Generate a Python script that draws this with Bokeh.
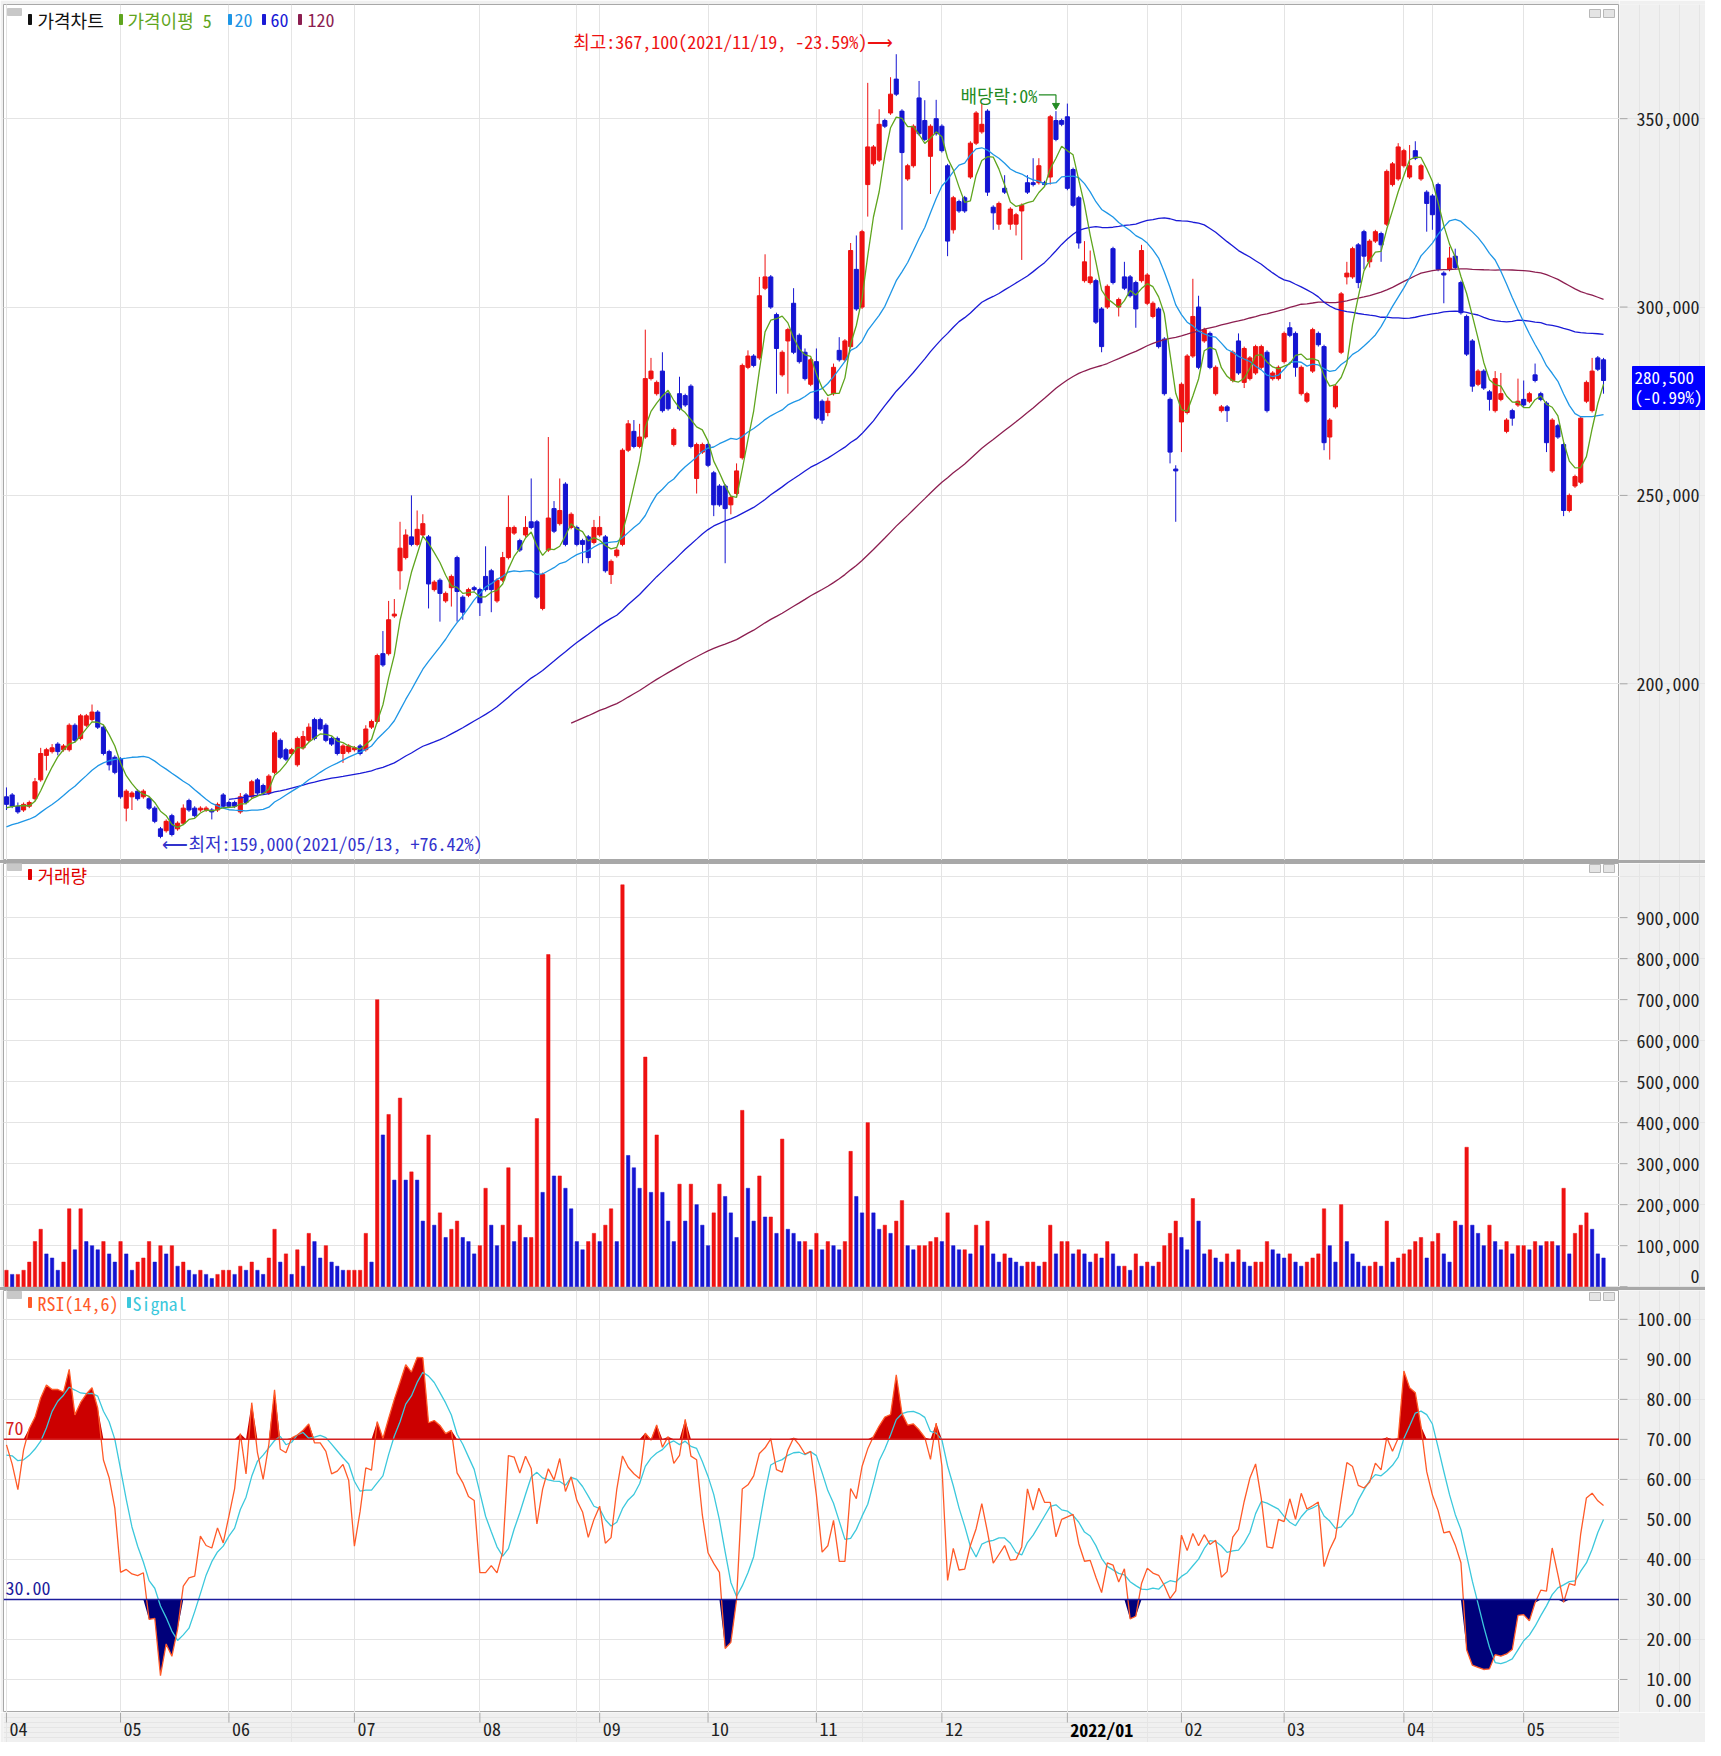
import numpy as np
from bokeh.plotting import figure
from bokeh.models import (ColumnDataSource, FixedTicker, Label, Span, Range1d, Div, BoxAnnotation, Grid)
from bokeh.layouts import column, row
from bokeh.embed import file_html
from bokeh.resources import INLINE
from bokeh.core.properties import value

# ---------------- data: prices in thousand KRW, volume in thousand shares ----------------
month_idx = [0, 20, 39, 61, 83, 104, 123, 142, 164, 186, 206, 224, 245, 266]
month_lbl = ["04", "05", "06", "07", "08", "09", "10", "11", "12", "2022/01", "02", "03", "04", "05"]

# 20 sessions before the visible window (only used to warm up the averages / RSI)
prior_close_k = [157.0, 155.5, 158.0, 156.5, 159.0, 160.5, 158.5, 161.0, 162.5, 160.0,
                 158.5, 161.5, 163.0, 162.0, 164.5, 163.5, 166.0, 165.0, 167.5, 169.0]

open_k = [
    170.0, 170.5, 167.5, 166.5, 167.5, 169.5, 174.5, 181.0, 182.0, 184.0, 182.5, 182.5, 189.0, 185.5, 189.0, 190.5, 192.5, 188.5, 182.0, 180.5,
    180.0, 167.0, 170.0, 171.5, 170.0, 169.5, 167.0, 161.5, 161.0, 165.0, 161.5, 163.0, 169.0, 167.0, 166.5, 166.5, 166.5, 166.5, 170.5,
    168.5, 168.5, 166.0, 170.5, 170.0, 174.5, 173.0, 171.0, 176.5, 185.0, 182.5, 181.5, 178.5, 183.0, 185.0, 190.5, 190.5, 189.0, 185.5, 185.5, 181.5, 182.0,
    182.5, 183.5, 182.5, 188.5, 190.0, 208.0, 208.0, 218.0, 230.0, 233.5, 239.0, 237.0, 239.5, 239.0, 225.0, 227.5, 222.0, 225.5, 233.5, 223.0, 223.5, 225.5,
    225.0, 228.5, 230.0, 222.0, 227.5, 233.5, 240.0, 238.0, 239.5, 243.0, 243.0, 220.0, 235.5, 246.5, 242.5, 253.0, 241.5, 241.5, 238.0, 239.0, 237.5,
    239.5, 239.0, 229.0, 234.0, 237.0, 262.0, 267.0, 263.0, 265.5, 281.0, 277.0, 283.0, 277.0, 263.5, 277.0, 276.5, 279.0, 254.5, 261.5,
    263.5, 256.0, 252.5, 252.5, 247.5, 250.5, 260.0, 284.0, 287.0, 286.5, 305.0, 308.0, 298.0, 282.0, 291.0, 301.0, 292.5, 288.0, 279.5,
    285.5, 275.0, 272.0, 277.0, 288.5, 286.0, 289.5, 310.0, 300.0, 332.5, 338.0, 339.0, 349.5, 351.5, 360.5, 352.0, 334.0, 337.5, 355.5, 349.5, 340.0, 350.0,
    348.0, 337.5, 320.5, 328.0, 329.0, 334.5, 343.5, 346.5, 352.0, 326.5, 322.0, 331.5, 322.0, 322.0, 325.5, 333.0, 333.0, 333.0, 333.0, 334.5, 349.5, 349.5,
    350.5, 336.5, 329.0, 307.0, 306.5, 307.0, 299.5, 300.0, 315.5, 300.0, 308.0, 308.0, 306.5, 307.0, 301.0, 297.5, 299.5, 291.5, 275.5, 257.0,
    269.5, 272.0, 287.0, 300.0, 291.0, 293.0, 277.0, 272.5, 273.5, 280.5, 291.0, 280.0, 281.0, 282.5, 284.0, 288.0, 281.0, 281.0,
    285.5, 294.5, 293.0, 277.0, 275.0, 283.0, 293.0, 289.5, 265.5, 273.5, 288.0, 308.0, 308.0, 316.5, 320.0, 312.0, 317.5, 319.5, 322.0, 332.5, 334.0,
    337.5, 334.5, 341.5, 334.0, 330.5, 329.5, 332.5, 309.0, 310.0, 313.5, 306.5, 297.5, 291.0, 279.5, 283.0, 277.5, 272.5, 275.5, 267.0, 272.5, 274.0,
    275.5, 275.0, 282.0, 277.0, 274.5, 256.5, 268.5, 263.5, 246.0, 252.5, 253.5, 275.0, 272.5, 286.5, 286.0,
]
high_k = [
    172.5, 171.0, 168.5, 168.5, 169.0, 175.0, 183.0, 183.0, 184.0, 184.5, 184.0, 189.5, 189.5, 192.0, 192.0, 194.5, 193.0, 189.0, 182.5, 181.0,
    180.5, 172.0, 171.5, 172.0, 172.0, 170.0, 167.5, 162.0, 164.0, 165.5, 163.5, 168.0, 169.5, 167.5, 167.5, 167.5, 167.0, 168.5, 171.0,
    169.0, 169.0, 171.0, 171.0, 174.5, 175.0, 173.5, 176.0, 187.5, 185.5, 183.0, 183.0, 186.0, 187.5, 189.5, 191.0, 191.0, 189.5, 186.0, 186.0, 184.0, 184.0,
    183.5, 184.0, 189.0, 190.5, 208.0, 214.0, 222.0, 222.5, 243.0, 241.0, 250.0, 246.0, 245.0, 239.5, 227.5, 228.0, 224.5, 229.0, 234.0, 223.5, 225.5, 226.0,
    225.5, 236.5, 230.5, 228.0, 235.0, 250.0, 242.0, 238.5, 244.5, 254.5, 243.5, 229.5, 265.5, 248.5, 254.5, 253.5, 245.5, 242.0, 238.5, 239.5, 243.5,
    244.5, 239.5, 233.0, 236.0, 262.5, 270.0, 270.0, 269.0, 294.0, 286.5, 280.5, 288.0, 277.5, 268.0, 281.5, 277.0, 279.5, 264.0, 264.0,
    264.0, 256.5, 253.0, 253.0, 250.0, 258.5, 285.0, 288.5, 287.5, 308.0, 314.0, 308.5, 298.5, 288.5, 294.5, 305.0, 293.0, 289.0, 286.5,
    289.0, 275.5, 276.0, 285.0, 292.0, 291.5, 317.0, 319.0, 320.5, 359.5, 343.0, 352.5, 350.0, 361.0, 367.1, 352.5, 338.0, 348.5, 360.0, 354.9, 348.5, 355.0,
    348.5, 338.0, 329.5, 328.5, 329.5, 344.0, 352.0, 354.0, 352.5, 327.0, 328.0, 335.0, 326.5, 325.0, 327.5, 335.0, 339.5, 339.5, 333.5, 351.0, 352.0, 350.0,
    354.0, 337.0, 329.5, 317.5, 315.0, 307.5, 300.0, 306.0, 316.0, 302.5, 312.0, 308.5, 307.0, 316.5, 309.0, 301.5, 300.0, 292.0, 276.0, 258.0,
    280.0, 287.5, 307.5, 303.0, 294.5, 293.5, 284.5, 274.0, 274.0, 288.5, 293.0, 289.5, 287.0, 290.0, 290.0, 288.5, 283.0, 284.5,
    293.5, 296.0, 293.5, 284.5, 277.5, 294.5, 293.5, 290.0, 270.5, 279.5, 304.0, 312.0, 316.0, 317.0, 320.5, 318.0, 320.5, 320.0, 336.5, 338.5, 343.5,
    342.0, 343.0, 344.0, 338.0, 331.0, 330.0, 333.0, 309.5, 316.0, 315.5, 307.0, 298.0, 291.5, 283.5, 283.5, 278.0, 283.0, 282.5, 270.5, 273.0, 281.0,
    280.5, 277.5, 285.0, 277.5, 275.0, 270.5, 269.0, 264.0, 250.5, 255.5, 271.0, 280.5, 286.5, 287.0, 286.5,
]
low_k = [
    166.5, 167.0, 165.5, 166.0, 167.0, 169.0, 174.0, 177.0, 181.5, 181.0, 182.0, 182.0, 184.5, 185.0, 188.5, 190.0, 188.0, 181.0, 177.0, 176.0,
    169.5, 163.5, 166.5, 169.0, 169.5, 166.5, 163.0, 159.0, 160.5, 159.5, 161.0, 162.5, 166.0, 164.5, 166.0, 166.0, 164.0, 166.0, 167.0,
    167.0, 167.0, 165.5, 168.0, 169.5, 170.5, 170.5, 170.5, 176.0, 180.0, 179.5, 181.0, 178.0, 182.5, 184.5, 185.0, 187.5, 184.5, 183.5, 181.0, 179.0, 181.5,
    182.0, 181.0, 182.0, 188.0, 189.5, 204.5, 207.5, 217.5, 225.0, 233.0, 236.5, 236.5, 239.0, 220.0, 224.5, 216.5, 221.5, 220.5, 216.5, 217.0, 223.0, 224.5,
    218.0, 224.5, 219.0, 221.5, 227.0, 233.0, 239.5, 235.0, 239.0, 241.0, 222.5, 219.5, 235.0, 240.0, 242.0, 236.5, 241.0, 236.5, 232.0, 232.0, 237.0,
    239.0, 229.5, 226.5, 233.5, 236.5, 261.5, 262.5, 262.5, 265.0, 280.5, 276.5, 272.0, 272.5, 263.0, 272.5, 273.5, 262.5, 250.5, 261.0,
    257.5, 244.5, 247.0, 232.0, 245.0, 250.0, 259.5, 283.5, 284.0, 286.0, 304.5, 299.5, 277.0, 281.5, 277.0, 287.5, 285.0, 280.5, 279.0,
    270.0, 269.0, 271.0, 276.5, 285.5, 285.5, 289.0, 299.0, 299.5, 324.0, 337.5, 338.5, 347.5, 351.0, 356.0, 320.5, 333.5, 337.0, 345.5, 344.0, 330.0, 345.5,
    341.0, 313.5, 319.5, 325.0, 325.0, 334.0, 343.0, 346.0, 329.5, 320.5, 320.5, 330.0, 320.5, 319.0, 312.5, 330.0, 332.0, 332.5, 332.0, 332.5, 344.0, 348.0,
    331.0, 326.5, 315.5, 306.5, 306.0, 295.5, 288.0, 299.5, 306.0, 297.5, 304.5, 302.5, 294.5, 306.5, 300.5, 297.0, 289.0, 276.5, 258.5, 243.0,
    261.5, 271.5, 286.5, 283.5, 290.5, 283.5, 276.5, 272.0, 269.5, 280.0, 282.0, 278.5, 280.5, 282.0, 283.5, 272.0, 280.5, 280.5,
    285.0, 292.0, 281.5, 276.5, 274.5, 282.5, 289.5, 262.0, 259.5, 273.0, 287.5, 306.0, 307.5, 305.0, 310.0, 310.5, 317.0, 312.0, 321.5, 332.0, 333.5,
    337.0, 334.0, 339.0, 333.5, 320.0, 320.5, 309.5, 301.0, 309.5, 310.0, 298.0, 287.0, 277.5, 279.0, 278.0, 272.5, 272.0, 275.0, 266.5, 268.5, 273.5,
    273.5, 274.5, 280.0, 275.0, 261.5, 256.0, 265.0, 244.5, 245.5, 252.0, 253.0, 274.5, 272.0, 283.0, 277.0,
]
close_k = [
    168.0, 167.5, 166.0, 168.0, 168.5, 174.0, 181.5, 182.5, 183.0, 182.0, 183.5, 189.0, 185.0, 191.5, 191.5, 192.5, 188.5, 181.5, 178.5, 176.5,
    170.0, 171.5, 171.0, 169.5, 171.5, 167.0, 163.5, 159.5, 163.5, 160.0, 163.0, 167.0, 166.5, 165.0, 167.0, 167.0, 166.0, 168.0, 167.5,
    167.5, 167.5, 170.0, 168.5, 174.0, 171.0, 171.0, 175.5, 187.0, 180.5, 180.0, 182.5, 185.5, 186.0, 188.5, 185.5, 188.0, 185.0, 184.0, 181.5, 183.5, 183.5,
    183.0, 181.5, 188.0, 190.0, 207.5, 205.0, 217.0, 218.5, 236.0, 239.5, 237.0, 241.0, 242.5, 226.5, 227.0, 224.0, 224.0, 228.5, 224.5, 219.0, 225.0, 225.0,
    221.5, 225.0, 225.0, 227.5, 233.5, 241.5, 241.5, 235.5, 241.5, 241.5, 223.0, 229.0, 244.0, 240.5, 246.0, 237.0, 245.0, 237.0, 237.0, 233.5, 241.5,
    241.5, 230.0, 232.5, 235.5, 262.0, 269.0, 263.0, 265.5, 281.0, 283.0, 280.0, 272.5, 273.0, 267.5, 273.0, 274.0, 263.0, 263.5, 263.5,
    258.0, 247.5, 247.5, 246.5, 249.5, 256.5, 284.5, 287.0, 284.5, 303.0, 308.0, 300.0, 289.0, 288.0, 294.0, 288.0, 285.5, 281.0, 286.0,
    270.5, 270.0, 275.0, 284.0, 286.0, 291.0, 315.0, 299.5, 320.0, 342.5, 342.5, 348.5, 348.0, 356.5, 356.5, 341.0, 337.5, 348.0, 346.0, 344.5, 348.0, 346.0,
    341.5, 317.5, 329.0, 325.5, 325.5, 343.5, 351.5, 348.5, 330.5, 325.0, 327.5, 330.5, 326.0, 324.5, 327.0, 330.5, 332.5, 337.5, 332.5, 350.5, 344.5, 348.5,
    331.5, 327.0, 317.0, 312.0, 308.0, 296.0, 289.5, 305.5, 306.5, 302.0, 305.0, 303.0, 299.5, 315.0, 308.5, 301.0, 289.5, 277.0, 261.5, 256.5,
    279.5, 287.0, 297.5, 284.0, 294.0, 284.0, 284.0, 273.5, 272.5, 288.0, 282.5, 289.0, 286.5, 289.5, 289.5, 272.5, 282.5, 284.0,
    293.0, 292.5, 284.0, 284.0, 277.0, 294.0, 290.0, 264.0, 270.0, 279.0, 303.5, 309.0, 315.5, 306.5, 313.5, 317.5, 320.0, 316.5, 336.0, 338.0, 342.5,
    341.5, 337.5, 339.5, 337.5, 327.5, 324.5, 310.0, 308.5, 313.0, 310.5, 298.5, 287.5, 279.0, 283.0, 278.5, 275.5, 281.0, 277.0, 270.0, 270.5, 275.0,
    274.0, 277.0, 280.5, 275.5, 264.0, 270.0, 265.5, 246.0, 250.0, 255.0, 270.5, 280.0, 283.0, 283.5, 280.5,
]
volume_k = [
    40, 30, 30, 40, 60, 110, 140, 80, 70, 40, 60, 190, 90, 190, 110, 100, 90, 110, 80, 60,
    110, 80, 40, 60, 70, 110, 60, 100, 80, 100, 50, 60, 40, 30, 40, 30, 20, 30, 40,
    40, 30, 50, 40, 60, 40, 30, 70, 140, 60, 80, 30, 90, 50, 130, 110, 70, 100, 60, 50, 40, 40,
    40, 40, 130, 60, 700, 370, 420, 260, 460, 260, 280, 260, 160, 370, 150, 180, 120, 140, 160, 120, 110, 80,
    100, 240, 150, 100, 150, 290, 110, 150, 120, 120, 410, 230, 810, 270, 270, 240, 190, 110, 90, 110, 130,
    110, 150, 190, 110, 980, 320, 290, 240, 560, 230, 370, 230, 160, 110, 250, 160, 250, 200, 150,
    100, 180, 250, 220, 180, 120, 430, 240, 160, 270, 170, 170, 130, 360, 140, 130, 110, 110, 90,
    130, 90, 110, 100, 90, 110, 330, 220, 180, 400, 180, 140, 150, 130, 160, 210, 100, 90, 100, 100, 110, 120,
    110, 180, 100, 90, 90, 80, 150, 100, 160, 80, 60, 80, 70, 60, 50, 60, 60, 50, 60, 150, 80, 110,
    110, 80, 90, 80, 60, 80, 70, 110, 80, 50, 50, 40, 80, 50, 60, 50, 60, 100, 130, 160,
    120, 90, 215, 160, 80, 90, 70, 60, 80, 60, 90, 60, 50, 60, 60, 110, 90, 80,
    70, 80, 60, 50, 60, 70, 80, 190, 100, 60, 200, 110, 80, 60, 50, 50, 60, 50, 160, 60, 70,
    80, 90, 110, 120, 70, 110, 130, 80, 60, 160, 150, 340, 150, 130, 100, 150, 110, 90, 110, 80, 100,
    100, 90, 110, 100, 110, 110, 100, 240, 80, 130, 150, 180, 140, 80, 70,
]

price_ticks = [200000, 250000, 300000, 350000]
volume_ticks = [100000, 200000, 300000, 400000, 500000, 600000, 700000, 800000, 900000]
rsi_ticks = [10, 20, 30, 40, 50, 60, 70, 80, 90, 100]
ex_div_idx = 184
high_date = "2021/11/19"
low_date = "2021/05/13"
last_change_txt = "(-0.99%)"

# ---------------- derived series ----------------
K = 1000.0
o = np.array(open_k) * K
h = np.array(high_k) * K
l = np.array(low_k) * K
c = np.array(close_k) * K
vol = np.array(volume_k) * K
n = len(c)
x = np.arange(n)

npre = len(prior_close_k)
full = np.concatenate([np.array(prior_close_k) * K, c])


def sma(arr, w):
    out = np.full(len(arr), np.nan)
    cs = np.cumsum(np.insert(arr, 0, 0.0))
    out[w - 1:] = (cs[w:] - cs[:-w]) / w
    return out


ma = {w: sma(full, w)[npre:] for w in (5, 20, 60, 120)}

d = np.diff(full, prepend=full[0])
up = np.where(d > 0, d, 0.0)
dn = np.where(d < 0, -d, 0.0)
rsi_full = np.full(len(full), np.nan)
for j in range(14, len(full)):
    u = up[j - 13:j + 1].sum()
    dd = dn[j - 13:j + 1].sum()
    rsi_full[j] = 100.0 * u / (u + dd) if (u + dd) > 0 else 50.0
sig_full = np.full(len(full), np.nan)
for j in range(19, len(full)):
    sig_full[j] = rsi_full[j - 5:j + 1].mean()
rsi = rsi_full[npre:]
sig = sig_full[npre:]

# ---------------- styling ----------------
FW = 1616          # width of the chart frames
AW = 86            # width of the right-hand scale strip
FONT = "Noto Sans Mono CJK KR"
FS = "18px"
RED = "#ee1111"
BLUE = "#1414d2"
C5, C20, C60, C120 = "#5fa51e", "#1e96e6", "#1a1ad6", "#8c1e50"
GREEN = "#238b23"
GRID = "#e4e4e4"
PANEL_BG = "#f0f0f0"
xr = Range1d(-0.52, 282.8)


def make_fig(fh, yr, top, bottom, yticks):
    f = figure(frame_width=FW, frame_height=fh, x_range=xr, y_range=yr, output_backend="svg",
               toolbar_location=None, x_axis_location=None, y_axis_location=None,
               min_border_left=3, min_border_right=0, min_border_top=top, min_border_bottom=bottom)
    f.border_fill_color = PANEL_BG
    f.background_fill_color = "#ffffff"
    f.outline_line_color = "#a8a8a8"
    f.add_layout(Grid(dimension=0, ticker=FixedTicker(ticks=month_idx), grid_line_color=GRID))
    f.add_layout(Grid(dimension=1, ticker=FixedTicker(ticks=yticks), grid_line_color=GRID))
    return f


def scale_fig(fh, yr, top, bottom, yticks):
    a = figure(frame_width=AW, frame_height=fh, x_range=Range1d(0, AW), y_range=yr, output_backend="svg",
               toolbar_location=None, x_axis_location=None, y_axis_location=None,
               min_border_left=0, min_border_right=0, min_border_top=top, min_border_bottom=bottom)
    a.border_fill_color = PANEL_BG
    a.background_fill_color = PANEL_BG
    a.outline_line_color = None
    a.segment(x0=[0] * len(yticks), y0=yticks, x1=[8] * len(yticks), y1=yticks,
              line_color="#a8a8a8", line_width=1)
    return a


def scale_text(a, xx, ys, texts, align="left", color="#222222", size=FS):
    a.text(x=[xx] * len(ys), y=ys, text=texts, text_font=value(FONT), text_font_size=size,
           text_color=color, text_align=align, text_baseline="middle")


def add_text(f, xx, yy, s, color, xu="screen", yu="screen", align="left", baseline="middle",
             xo=0, yo=0):
    f.add_layout(Label(x=xx, y=yy, x_units=xu, y_units=yu, text=s, text_color=color,
                       text_font=FONT, text_font_size=FS, text_align=align,
                       text_baseline=baseline, x_offset=xo, y_offset=yo))


def add_box(f, fh, x0, x1, t0, t1, fill, line=None):
    f.add_layout(BoxAnnotation(left=x0, right=x1, top=fh - t0, bottom=fh - t1,
                               left_units="screen", right_units="screen",
                               top_units="screen", bottom_units="screen",
                               fill_color=fill, fill_alpha=1.0,
                               line_color=line if line else fill, line_alpha=1.0, line_width=1))


def legend(f, fh, yc, items):
    add_box(f, fh, 4, 18, yc - 11, yc - 4, "#c8c8c8")
    add_box(f, fh, FW - 30, FW - 19, yc - 10, yc - 2, "#e4e4e4", "#b8b8b8")
    add_box(f, fh, FW - 16, FW - 5, yc - 10, yc - 2, "#e4e4e4", "#b8b8b8")
    for bx, tx, s, col in items:
        add_box(f, fh, bx, bx + 3, yc - 5, yc + 5, col)
        add_text(f, tx, fh - yc, s, col)


# ---------------- price panel ----------------
PH = 856
p_yr = Range1d(153100, 380300)
p = make_fig(PH, p_yr, 4, 0, price_ticks)

colors = np.where(c >= o, RED, BLUE)
src = ColumnDataSource(dict(x=x, h=h, l=l, top=np.maximum(o, c), bot=np.minimum(o, c), color=colors))
p.segment(x0="x", y0="l", x1="x", y1="h", line_color="color", line_width=1, source=src)
p.vbar(x="x", width=0.72, top="top", bottom="bot", fill_color="color", line_color="color",
       line_width=1, source=src)
p.line(x, ma[120], line_color=C120, line_width=1.3)
p.line(x, ma[60], line_color=C60, line_width=1.3)
p.line(x, ma[20], line_color=C20, line_width=1.3)
p.line(x, ma[5], line_color=C5, line_width=1.3)

legend(p, PH, 15, [(25, 34, "가격차트", "#111111"), (116, 124, "가격이평 5", C5),
                   (225, 231, "20", C20), (259, 267, "60", C60), (295, 304, "120", C120)])

hi_i = int(np.argmax(h))
lo_i = int(np.argmin(l))
hi_v, lo_v, last = h[hi_i], l[lo_i], c[-1]
add_text(p, hi_i, hi_v, f"최고:{hi_v:,.0f}({high_date}, {(last / hi_v - 1) * 100:+.2f}%)⟶", RED,
         xu="data", yu="data", align="right", xo=-3, yo=13)
add_text(p, lo_i, lo_v, f"⟵최저:{lo_v:,.0f}({low_date}, {(last / lo_v - 1) * 100:+.2f}%)", "#3333cc",
         xu="data", yu="data", align="left", xo=2, yo=-5)

yt = h[ex_div_idx] + 4300
ya = h[ex_div_idx] + 1500
p.line([ex_div_idx - 3.0, ex_div_idx, ex_div_idx], [yt, yt, ya], line_color=GREEN, line_width=1.2)
p.scatter([ex_div_idx], [ya], marker="inverted_triangle", size=7, color=GREEN)
add_text(p, ex_div_idx - 3.3, yt, "배당락:0%", GREEN, xu="data", yu="data", align="right")

pa = scale_fig(PH, p_yr, 4, 0, price_ticks)
scale_text(pa, 17, price_ticks, [f"{t:,}" for t in price_ticks])
ppx = (p_yr.end - p_yr.start) / PH          # price units per screen pixel
pa.quad(left=[13], right=[AW], top=[last + 14 * ppx], bottom=[last - 29 * ppx],
        fill_color="#0000ff", line_color="#0000ff")
scale_text(pa, 15, [last + 3 * ppx, last - 16 * ppx], [f"{last:,.0f}", last_change_txt],
           color="#ffffff", size="17px")

# ---------------- volume panel ----------------
VH = 424
v_yr = Range1d(-2000, 1032000)
v = make_fig(VH, v_yr, 0, 0, volume_ticks)
vcol = [RED] + [RED if vol[i] >= vol[i - 1] else BLUE for i in range(1, n)]
v.vbar(x=x, width=0.6, top=vol, bottom=0, fill_color=vcol, line_color=vcol, line_width=0.5)
legend(v, VH, 11, [(25, 34, "거래량", "#e00000")])

va = scale_fig(VH, v_yr, 0, 0, volume_ticks + [0])
scale_text(va, 17, volume_ticks, [f"{t:,}" for t in volume_ticks])
vpx = (v_yr.end - v_yr.start) / VH
scale_text(va, 80, [v_yr.start + 12 * vpx], ["0"], align="right")

# ---------------- RSI panel ----------------
RH = 422
r_yr = Range1d(1.75, 107.2)
r = make_fig(RH, r_yr, 0, 0, rsi_ticks)
r.varea(x=x, y1=np.full(n, 70.0), y2=np.maximum(rsi, 70.0), fill_color="#cc0000")
r.varea(x=x, y1=np.minimum(rsi, 30.0), y2=np.full(n, 30.0), fill_color="#00007a")
r.add_layout(Span(location=70, dimension="width", line_color="#d42020", line_width=1.5))
r.add_layout(Span(location=30, dimension="width", line_color="#1c1c9c", line_width=1.5))
r.line(x, sig, line_color="#3cc8dc", line_width=1.3)
r.line(x, rsi, line_color="#ff5a28", line_width=1.3)
legend(r, RH, 12, [(25, 34, "RSI(14,6)", "#ff5a28"), (124, 129, "Signal", "#3cc8dc")])
add_text(r, 2, 70, "70", "#d42020", yu="data", yo=11)
add_text(r, 2, 30, "30.00", "#1c1c9c", yu="data", yo=11)

ra = scale_fig(RH, r_yr, 0, 0, rsi_ticks)
scale_text(ra, 72, rsi_ticks, [f"{t:.2f}" for t in rsi_ticks], align="right")
rpx = (r_yr.end - r_yr.start) / RH
scale_text(ra, 72, [r_yr.start + 13 * rpx], ["0.00"], align="right")

# ---------------- month strip ----------------
BH = 30
b = figure(frame_width=FW, frame_height=BH, x_range=xr, y_range=Range1d(0, BH), output_backend="svg",
           toolbar_location=None, x_axis_location=None, y_axis_location=None,
           min_border_left=3, min_border_right=AW, min_border_top=0, min_border_bottom=0)
b.border_fill_color = PANEL_BG
b.background_fill_color = PANEL_BG
b.outline_line_color = None
b.segment(x0=month_idx, y0=[BH] * len(month_idx), x1=month_idx, y1=[BH - 10] * len(month_idx),
          line_color="#a8a8a8", line_width=1)
norm = [(m, s) for m, s in zip(month_idx, month_lbl) if not s.startswith("20")]
bold = [(m, s) for m, s in zip(month_idx, month_lbl) if s.startswith("20")]
b.text(x=[m for m, _ in norm], y=[14] * len(norm), text=[s for _, s in norm], x_offset=3,
       text_font=value(FONT), text_font_size=FS, text_color="#222222", text_baseline="middle")
b.text(x=[m for m, _ in bold], y=[14] * len(bold), text=[s for _, s in bold], x_offset=3,
       text_font=value(FONT), text_font_size=FS, text_font_style="bold", text_color="#000000",
       text_baseline="middle")


def sep():
    return Div(text="", width=FW + 3 + AW, height=3, margin=(0, 0, 0, 0),
               styles={"background-color": "#a8a8a8"})


layout = column(row(p, pa, spacing=0), sep(), row(v, va, spacing=0), sep(), row(r, ra, spacing=0), b,
                spacing=0)
open("out.html", "w").write(file_html(layout, INLINE))
